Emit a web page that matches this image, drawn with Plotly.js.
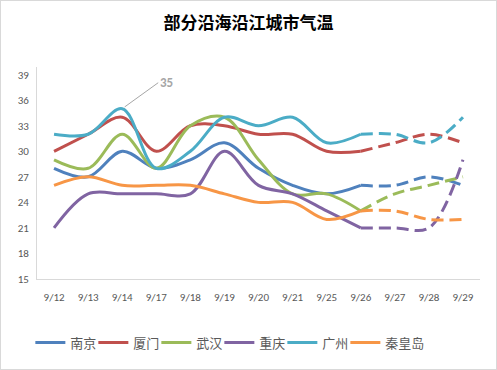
<!DOCTYPE html>
<html><head><meta charset="utf-8">
<script src="https://cdn.plot.ly/plotly-3.0.1.min.js"></script>
<style>html,body{margin:0;padding:0;background:#fff;}#c{width:495px;height:368px;border:1px solid #d9d9d9;}</style>
</head><body><div id="c"></div>
<script>
const dates = ['9/12','9/13','9/14','9/17','9/18','9/19','9/20','9/21','9/25','9/26','9/27','9/28','9/29'];
const nanjing  = [28,27,30,28,29,31,28,26,25,26,26,27,26];
const xiamen   = [30,32,34,30,33,33,32,32,30,30,31,32,31];
const wuhan    = [29,28,32,28,33,34,29,25,25,23,25,26,27];
const chongqing= [21,25,25,25,25,30,26,25,23,21,21,21,29];
const guangzhou= [32,32,35,28,30,34,33,34,31,32,32,31,34];
const qhd      = [26,27,26,26,26,25,24,24,22,23,23,22,22];
const names = ['南京','厦门','武汉','重庆','广州','秦皇岛'];
const colors = ['#4F81BD','#C0504D','#9BBB59','#8064A2','#4BACC6','#F79646'];
const series = [nanjing, xiamen, wuhan, chongqing, guangzhou, qhd];
const splitIdx = 9; // forecast starts at 9/26
const traces = [];
series.forEach((s,i)=>{
  traces.push({x:dates.slice(0,splitIdx+1), y:s.slice(0,splitIdx+1), name:names[i], type:'scatter', mode:'lines',
    line:{color:colors[i], width:3, shape:'spline', smoothing:1}, legendgroup:names[i]});
});
series.forEach((s,i)=>{
  traces.push({x:dates.slice(splitIdx), y:s.slice(splitIdx), name:names[i], type:'scatter', mode:'lines', showlegend:false,
    line:{color:colors[i], width:3, shape:'spline', smoothing:1, dash:'12px,6px'}, legendgroup:names[i]});
});
// spacer legend entry so the last label is not clipped
traces.push({x:[null], y:[null], name:' ', type:'scatter', mode:'lines', line:{color:'rgba(0,0,0,0)', width:0}, showlegend:true});
const font = 'Calibri, Carlito, "Liberation Sans", "Noto Sans CJK SC", sans-serif';
const layout = {
  width:495, height:368,
  margin:{l:36, r:16, t:66, b:86},
  paper_bgcolor:'#fff', plot_bgcolor:'#fff',
  title:{text:'<b>部分沿海沿江城市气温</b>', font:{family:'"Noto Sans CJK SC", sans-serif', size:17, color:'#000'}, x:0.5, xanchor:'center', y:0.94, yanchor:'middle'},
  xaxis:{type:'category', categoryarray:dates, range:[-0.5,12.5], showgrid:false, showline:true, linecolor:'#d9d9d9', linewidth:1,
    ticks:'outside', ticklen:8, tickcolor:'rgba(0,0,0,0)', tickfont:{family:font, size:11, color:'#595959'}, zeroline:false},
  yaxis:{range:[15,39.9], tickvals:[15,18,21,24,27,30,33,36,39], showgrid:false, showline:true, linecolor:'#d9d9d9', linewidth:1,
    ticks:'outside', ticklen:5, tickcolor:'rgba(0,0,0,0)', tickfont:{family:font, size:11, color:'#595959'}, zeroline:false},
  showlegend:true,
  legend:{orientation:'h', x:-0.015, xanchor:'left', y:-0.3, yanchor:'middle', font:{family:'"Noto Sans CJK SC", sans-serif', size:13, color:'#595959'}, itemwidth:30, entrywidth:18, tracegroupgap:0},
  annotations:[{x:'9/14', y:35, xref:'x', yref:'y', text:'<b>35</b>', showarrow:true, arrowhead:0, arrowwidth:1, arrowcolor:'#a6a6a6',
    ax:36, ay:-26, font:{family:font, size:13, color:'#a6a6a6'}, xanchor:'left', standoff:3}]
};
Plotly.newPlot('c', traces, layout, {displayModeBar:false, staticPlot:true});
</script></body></html>
